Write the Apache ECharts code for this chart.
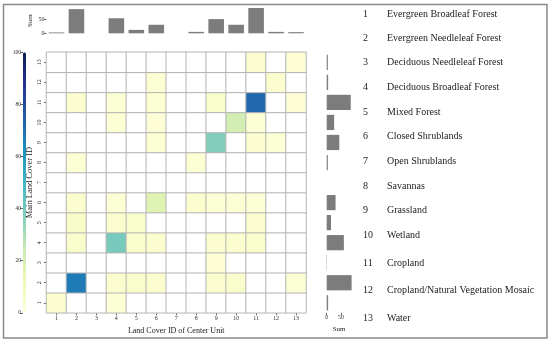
<!DOCTYPE html>
<html><head><meta charset="utf-8">
<script src="https://cdn.jsdelivr.net/npm/echarts@6/dist/echarts.min.js"></script>
<style>html,body{margin:0;padding:0;background:#fff}#c{width:550px;height:342px}</style>
</head><body><div id="c"></div>
<script>
const categories = ['1','2','3','4','5','6','7','8','9','10','11','12','13'];
const landCoverNames = ['Evergreen Broadleaf Forest','Evergreen Needleleaf Forest','Deciduous Needleleaf Forest','Deciduous Broadleaf Forest','Mixed Forest','Closed Shrublands','Open Shrublands','Savannas','Grassland','Wetland','Cropland','Cropland/Natural Vegetation Mosaic','Water'];
// cellValues[main-1][center-1]
const row1  = [3,0,0,2,0,0,0,0,0,0,0,0,0];
const row2  = [0,68,0,3,4,3,0,0,3,4,0,0,2];
const row3  = [0,0,0,0,0,0,0,0,1,0,0,0,0];
const row4  = [0,4,0,39,4,3,0,0,3,3,4,0,0];
const row5  = [0,5,0,3,4,0,0,0,0,0,3,0,0];
const row6  = [0,3,0,2,0,17,0,3,2,2,2,0,0];
const row7  = [0,0,0,0,0,0,0,0,0,0,0,0,0];
const row8  = [0,2,0,0,0,0,0,2,0,0,0,0,0];
const row9  = [0,0,0,0,0,2,0,0,37,0,3,2,0];
const row10 = [0,0,0,2,0,1,0,0,0,21,2,0,0];
const row11 = [0,3,0,2,0,2,0,0,4,0,72,0,1];
const row12 = [0,0,0,0,0,2,0,0,0,0,0,3,0];
const row13 = [0,0,0,0,0,0,0,0,0,0,3,0,1];
const colorTicks = [0,20,40,60,80,100];
const sumTicks = [0,50];

const rows = [row1,row2,row3,row4,row5,row6,row7,row8,row9,row10,row11,row12,row13];
const heatData = [];
rows.forEach((r,yi)=>r.forEach((v,xi)=>heatData.push([xi,yi,v])));
const colSums = categories.map((_,xi)=>rows.reduce((s,r)=>s+r[xi],0));
const rowSums = rows.map(r=>r.reduce((s,v)=>s+v,0));

// layout constants
const FONT = 'Liberation Serif';
const GL = 46.5, GT = 52.3, GW = 259.5, GH = 260.5;
const legendY = [14,38.3,62.7,87.7,112,136.7,161.3,186,210.7,235.3,263,290,318.3];

const tickStyle = {show:true,length:2.5,lineStyle:{color:'#444',width:0.8}};
const lblStyle = {fontFamily:FONT,fontSize:6,color:'#333'};

const graphics = [{type:'rect',shape:{x:3.5,y:4.5,width:543.5,height:333.5},style:{fill:'none',stroke:'#8a8a8a',lineWidth:1.5},silent:true}];
landCoverNames.forEach((n,i)=>{
  graphics.push({type:'text',x:363,y:legendY[i],style:{text:categories[i],fontFamily:FONT,fontSize:10,fill:'#222',verticalAlign:'middle'}});
  graphics.push({type:'text',x:387,y:legendY[i],style:{text:n,fontFamily:FONT,fontSize:10,fill:'#222',verticalAlign:'middle'}});
});

const chart = echarts.init(document.getElementById('c'),null,{renderer:'canvas'});
chart.setOption({
  animation:false,
  backgroundColor:'#fff',
  textStyle:{fontFamily:FONT},
  grid:[
    {left:GL,top:GT,width:GW,height:GH},
    {left:GL,top:8,width:GW,height:25.3},
    {left:326.7,top:GT,width:24.9,height:GH},
    {left:23,top:GT,width:3,height:GH}
  ],
  xAxis:[
    {gridIndex:0,type:'category',data:categories,axisLine:{show:false},axisTick:Object.assign({alignWithLabel:true},tickStyle),axisLabel:Object.assign({margin:3},lblStyle),
     name:'Land Cover ID of Center Unit',nameLocation:'middle',nameGap:11,nameTextStyle:{fontFamily:FONT,fontSize:8,color:'#222'}},
    {gridIndex:1,type:'category',data:categories,show:false},
    {gridIndex:2,type:'value',min:0,max:Math.max(...rowSums),axisLine:{show:false},splitLine:{show:false},
     axisTick:Object.assign({customValues:sumTicks},tickStyle),axisLabel:Object.assign({customValues:sumTicks,margin:2},lblStyle),
     name:'Sum',nameLocation:'middle',nameGap:11,nameTextStyle:{fontFamily:FONT,fontSize:7,color:'#222'}},
    {gridIndex:3,type:'value',show:false}
  ],
  yAxis:[
    {gridIndex:0,type:'category',data:categories,axisLine:{show:false},axisTick:Object.assign({alignWithLabel:true},tickStyle),axisLabel:Object.assign({margin:4,rotate:90},lblStyle),
     name:'Main Land Cover ID',nameLocation:'middle',nameGap:12,nameTextStyle:{fontFamily:FONT,fontSize:8.5,color:'#222'}},
    {gridIndex:1,type:'value',min:0,max:Math.max(...colSums),axisLine:{show:false},splitLine:{show:false},
     axisTick:Object.assign({customValues:sumTicks},tickStyle),axisLabel:Object.assign({customValues:sumTicks,margin:2},lblStyle),
     name:'Sum',nameLocation:'middle',nameGap:13,nameTextStyle:{fontFamily:FONT,fontSize:7,color:'#222'}},
    {gridIndex:2,type:'category',data:categories,show:false},
    {gridIndex:3,type:'value',min:0,max:100,interval:20,axisLine:{show:false},splitLine:{show:false},
     axisTick:Object.assign({},tickStyle,{length:3}),axisLabel:Object.assign({margin:2},lblStyle,{fontSize:5.5})}
  ],
  visualMap:{type:'continuous',min:0,max:100,range:[0.5,100],calculable:false,seriesIndex:0,
    left:23,top:GT,itemWidth:3,itemHeight:GH,padding:0,hoverLink:false,
    inRange:{color:['#ffffd9','#edf8b1','#c7e9b4','#7fcdbb','#41b6c4','#1d91c0','#225ea8','#253494','#081d58']},
    outOfRange:{color:'#ffffff'}},
  series:[
    {type:'heatmap',xAxisIndex:0,yAxisIndex:0,data:heatData,itemStyle:{borderColor:'#b4b4b4',borderWidth:1},emphasis:{disabled:true}},
    {type:'bar',xAxisIndex:1,yAxisIndex:1,data:colSums,barWidth:'78%',itemStyle:{color:'#7c7c7c'}},
    {type:'bar',xAxisIndex:2,yAxisIndex:2,data:rowSums,barWidth:'76%',itemStyle:{color:'#7c7c7c'}}
  ],
  graphic:graphics
});
</script></body></html>
